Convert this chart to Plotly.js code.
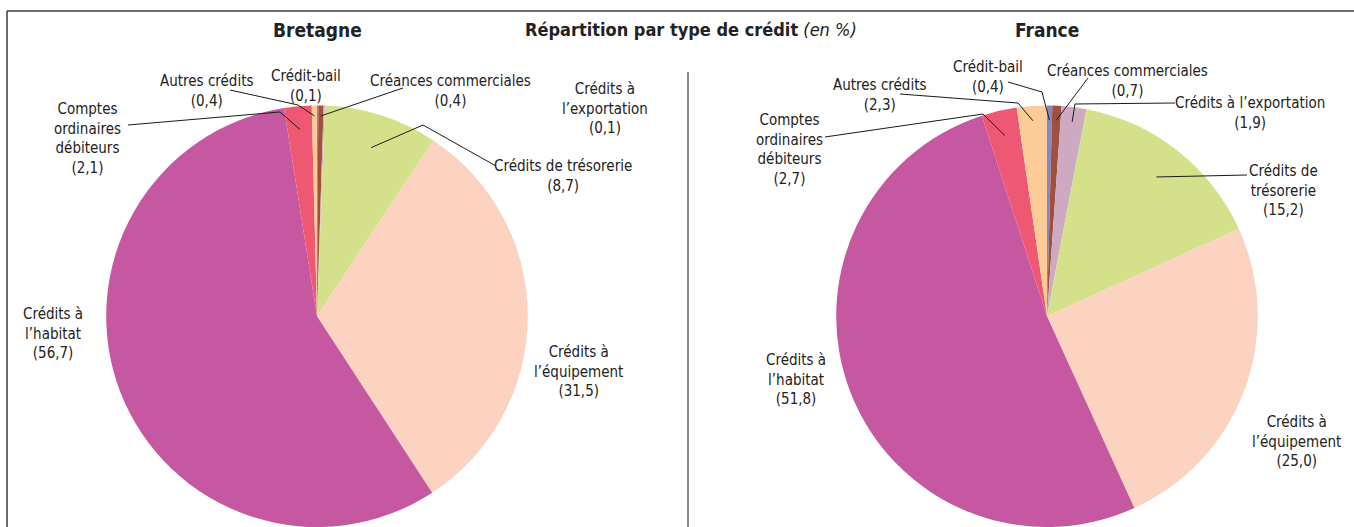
<!DOCTYPE html>
<html><head><meta charset="utf-8">
<script src="https://cdn.plot.ly/plotly-3.0.1.min.js"></script>
<style>body{margin:0;background:#fff}#chart{width:1354px;height:527px}</style>
</head><body><div id="chart"></div>
<script>
// ---- data ----
const categories = ["Crédit-bail","Créances commerciales","Crédits à l’exportation","Crédits de trésorerie","Crédits à l’équipement","Crédits à l’habitat","Comptes ordinaires débiteurs","Autres crédits"];
const bretagneValues = [0.1, 0.4, 0.1, 8.7, 31.5, 56.7, 2.1, 0.4];
const franceValues   = [0.4, 0.7, 1.9, 15.2, 25.0, 51.8, 2.7, 2.3];
const bretagneLabelText = ["Crédit-bail","Créances commerciales","Crédits à<br>l’exportation","Crédits de trésorerie","Crédits à<br>l’équipement","Crédits à<br>l’habitat","Comptes<br>ordinaires<br>débiteurs","Autres crédits"];
const franceLabelText   = ["Crédit-bail","Créances commerciales","Crédits à l’exportation","Crédits de<br>trésorerie","Crédits à<br>l’équipement","Crédits à<br>l’habitat","Comptes<br>ordinaires<br>débiteurs","Autres crédits"];
const panelTitles = ["Bretagne","France"];
const mainTitle = "<b>Répartition par type de crédit</b> <i>(en %)</i>";

// ---- style / layout ----
const sliceColors = ["#8487c8","#a0503c","#cdaac1","#d5e18a","#fcd3c1","#c558a1","#ef5872","#fdcb98"];
const W = 1354, H = 527;
const FONT = "DejaVu Sans Condensed, Liberation Sans Narrow, sans-serif";
const pieCx = [317, 1047];
const domH = 0.8;
const R = domH * H / 2;
const pieCy = H - R;
// label block centres (px)
const bretagneLabelPos = [[306,86],[450,91],[605,108],[563,176],[578,371],[53,333],[88,138],[207,91]];
const franceLabelPos   = [[988,77],[1127,81],[1250,113],[1283,190],[1296,441],[796,379],[790,149],[880,95]];
// leader routes (px) from label towards slice; tip is computed from data
const bretagneLeaders = [null, [[403,88]], null, [[496,166],[423,125]], null, null, [[128,125],[280,112]], [[230,90],[298,105]]];
const franceLeaders   = [[[1008,82],[1042,92]], [[1088,78]], [[1175,103],[1075,104]], [[1247,175]], null, null, [[825,137],[983,114]], [[900,94],[1018,103]]];
const bretagneTipFrac = [0.95,0.95,0.95,0.84,0.8,0.8,0.89,0.95];
const franceTipFrac   = [0.93,0.93,0.93,0.84,0.8,0.8,0.88,0.93];

const px = x => x / W, py = y => 1 - y / H;
const fmt = v => v.toFixed(1).replace('.', ',');

const traces = [bretagneValues, franceValues].map((vals, i) => ({
  type: 'pie', labels: categories, values: vals, sort: false, direction: 'clockwise', rotation: 0,
  marker: {colors: sliceColors, line: {width: 0}},
  textinfo: 'none', hoverinfo: 'skip', showlegend: false,
  domain: {x: [px(pieCx[i] - 230), px(pieCx[i] + 230)], y: [0, domH]}
}));

const annotations = [];
const shapes = [];
[[bretagneValues, bretagneLabelText, bretagneLabelPos, bretagneLeaders, bretagneTipFrac],
 [franceValues, franceLabelText, franceLabelPos, franceLeaders, franceTipFrac]].forEach((set, p) => {
  const [vals, txt, pos, leaders, frac] = set;
  const total = vals.reduce((a, b) => a + b, 0);
  let cum = 0;
  vals.forEach((v, k) => {
    const th = (cum + v / 2) / total * 2 * Math.PI;
    cum += v;
    annotations.push({xref:'paper', yref:'paper', x: px(pos[k][0]), y: py(pos[k][1]), xanchor:'center', yanchor:'middle',
      text: txt[k] + '<br>(' + fmt(v) + ')', showarrow:false, align:'center', font:{family:FONT, size:15, color:'#222'}});
    if (leaders[k]) {
      const tip = [pieCx[p] + frac[k] * R * Math.sin(th), pieCy - frac[k] * R * Math.cos(th)];
      const pts = leaders[k].concat([tip]);
      const d = pts.map((q, j) => (j ? 'L' : 'M') + px(q[0]).toFixed(5) + ',' + py(q[1]).toFixed(5)).join(' ');
      shapes.push({type:'path', xref:'paper', yref:'paper', path: d, line:{color:'#1a1a1a', width:1}});
    }
  });
  annotations.push({xref:'paper', yref:'paper', x: px(pieCx[p]), y: py(30), xanchor:'center', yanchor:'middle',
    text: '<b>' + panelTitles[p] + '</b>', showarrow:false, font:{family:FONT, size:19, color:'#222'}});
});
annotations.push({xref:'paper', yref:'paper', x: px(691), y: py(30), xanchor:'center', yanchor:'middle',
  text: mainTitle, showarrow:false, font:{family:FONT, size:18, color:'#222'}});

// frame and divider
const frameColor = '#3a3a3a';
shapes.push({type:'line', xref:'paper', yref:'paper', x0:px(7), y0:py(11), x1:1, y1:py(11), line:{color:frameColor, width:1.5}});
shapes.push({type:'line', xref:'paper', yref:'paper', x0:px(7), y0:py(11), x1:px(7), y1:0, line:{color:frameColor, width:1.5}});
shapes.push({type:'line', xref:'paper', yref:'paper', x0:px(688), y0:py(72), x1:px(688), y1:0, line:{color:frameColor, width:1.2}});

Plotly.newPlot('chart', traces, {
  width: W, height: H, margin:{l:0, r:0, t:0, b:0},
  paper_bgcolor:'#fff', plot_bgcolor:'#fff',
  annotations, shapes, showlegend:false
}, {staticPlot:true});
</script></body></html>
